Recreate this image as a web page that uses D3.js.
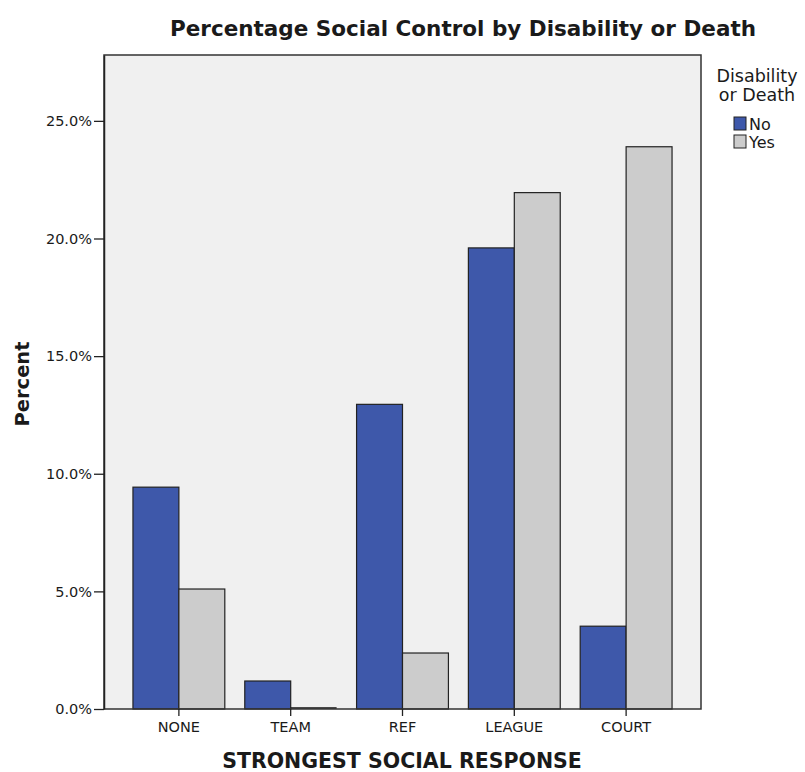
<!DOCTYPE html>
<html>
<head>
<meta charset="utf-8">
<script src="https://cdn.jsdelivr.net/npm/d3@7"></script>
<style>
  body { margin: 0; background: #ffffff; }
  svg { display: block; }
  text { font-family: "DejaVu Sans", Verdana, sans-serif; fill: #1a1a1a; }
</style>
</head>
<body>
<svg id="chart" width="805" height="772"></svg>
<script>
const categories = ["NONE", "TEAM", "REF", "LEAGUE", "COURT"];
const seriesNames = ["No", "Yes"];
const valuesNo = [9.43, 1.19, 12.95, 19.6, 3.52];
const valuesYes = [5.1, 0.0, 2.38, 21.95, 23.9];
const yTicks = [0, 5, 10, 15, 20, 25];
const colors = ["#3e58aa", "#cccccc"];

const svg = d3.select("#chart");
const pLeft = 104, pRight = 701, pTop = 55, pBottom = 709;

svg.append("rect").attr("x", pLeft).attr("y", pTop)
  .attr("width", pRight - pLeft).attr("height", pBottom - pTop)
  .attr("fill", "#f0f0f0");

const x = d3.scaleBand().domain(categories).range([pLeft, pRight])
  .paddingInner(20 / 112).paddingOuter(0.259);
const xs = d3.scaleBand().domain(seriesNames).range([0, x.bandwidth()]);
const y = d3.scaleLinear().domain([0, 27.8]).range([pBottom, pTop]);

const data = categories.map((c, i) => ({ cat: c, vals: [valuesNo[i], valuesYes[i]] }));

const g = svg.append("g");
data.forEach(d => {
  d.vals.forEach((v, j) => {
    const bx = x(d.cat) + xs(seriesNames[j]);
    if (v > 0) {
      g.append("rect")
        .attr("x", bx)
        .attr("y", y(v))
        .attr("width", xs.bandwidth())
        .attr("height", pBottom - y(v))
        .attr("fill", colors[j])
        .attr("stroke", "#222")
        .attr("stroke-width", 1.2);
    } else {
      g.append("line")
        .attr("x1", bx).attr("x2", bx + xs.bandwidth())
        .attr("y1", y(v) - 1).attr("y2", y(v) - 1)
        .attr("stroke", "#111").attr("stroke-width", 1.5);
    }
  });
});

// frame
svg.append("rect").attr("x", pLeft).attr("y", pTop)
  .attr("width", pRight - pLeft).attr("height", pBottom - pTop)
  .attr("fill", "none").attr("stroke", "#333").attr("stroke-width", 1.5);

// y axis
const yAxis = d3.axisLeft(y).tickValues(yTicks).tickSize(10).tickSizeOuter(0).tickPadding(2)
  .tickFormat(d => d3.format(".1f")(d) + "%");
const ya = svg.append("g").attr("transform", `translate(${pLeft},0)`).call(yAxis);
ya.select(".domain").attr("stroke", "#222").attr("stroke-width", 1.5);
ya.selectAll(".tick line").attr("stroke", "#222").attr("stroke-width", 1.3);
ya.selectAll(".tick text").style("font-size", "14.5px").attr("fill", "#333");

// x axis
const xAxis = d3.axisBottom(x).tickSize(7).tickSizeOuter(0).tickPadding(6);
const xa = svg.append("g").attr("transform", `translate(0,${pBottom})`).call(xAxis);
xa.select(".domain").remove();
xa.selectAll(".tick line").attr("stroke", "#222").attr("stroke-width", 1.3);
xa.selectAll(".tick text").style("font-size", "14.5px").attr("fill", "#333");

// title
svg.append("text").attr("x", 463).attr("y", 36).attr("text-anchor", "middle")
  .style("font-size", "21.5px").style("font-weight", "bold").text("Percentage Social Control by Disability or Death");

// axis titles
svg.append("text").attr("transform", "translate(29,384) rotate(-90)")
  .attr("text-anchor", "middle").style("font-size", "19.5px").style("font-weight", "bold").text("Percent");
svg.append("text").attr("x", 402).attr("y", 768).attr("text-anchor", "middle")
  .style("font-size", "20.5px").style("font-weight", "bold").text("STRONGEST SOCIAL RESPONSE");

// legend
const lg = svg.append("g");
lg.append("text").attr("x", 757).attr("y", 82).attr("text-anchor", "middle")
  .style("font-size", "17.5px").attr("fill", "#333").text("Disability");
lg.append("text").attr("x", 757).attr("y", 101).attr("text-anchor", "middle")
  .style("font-size", "17.5px").attr("fill", "#333").text("or Death");
seriesNames.forEach((s, i) => {
  lg.append("rect").attr("x", 734).attr("y", 117 + i * 18).attr("width", 12).attr("height", 13)
    .attr("fill", colors[i]).attr("stroke", "#222").attr("stroke-width", 1);
  lg.append("text").attr("x", 749).attr("y", 130 + i * 18)
    .style("font-size", "16px").attr("fill", "#333").text(s);
});
</script>
</body>
</html>
